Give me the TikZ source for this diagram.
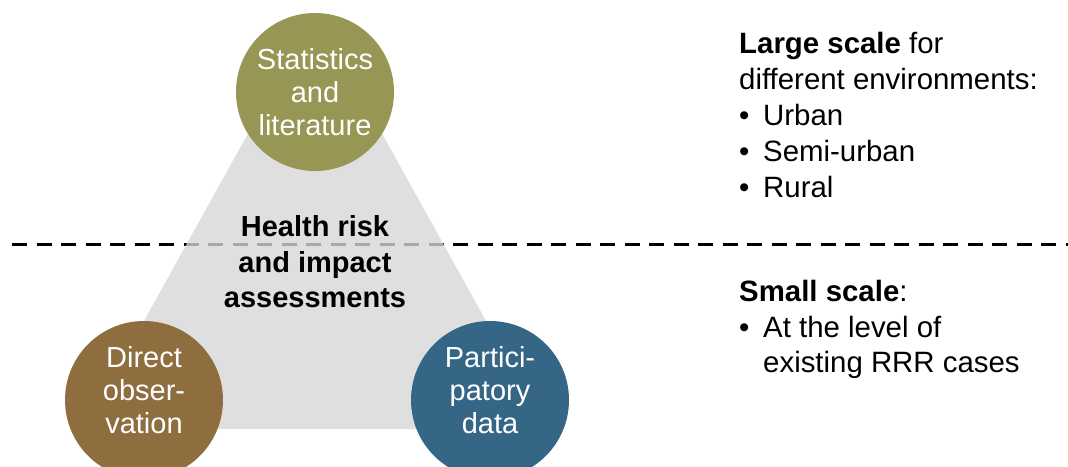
\documentclass[tikz,border=0pt]{standalone}
\usepackage{fontspec}
\setmainfont{Liberation Sans}
\begin{document}
\begin{tikzpicture}[x=1pt,y=-1pt,
  circ/.style={circle, minimum size=158pt, inner sep=0pt, draw=none},
  circtext/.style={align=center, text=white, inner sep=0pt, font=\fontsize{29}{33}\selectfont},
  heading/.style={align=center, text=black, inner sep=0pt, font=\bfseries\fontsize{29}{35.5}\selectfont},
  rtext/.style={anchor=base west, inner sep=0pt, font=\fontsize{29.4}{35}\selectfont},
  divider/.style={line width=3pt, dash pattern=on 15pt off 9.5pt}
]
\definecolor{olive}{RGB}{151,150,84}
\definecolor{brownc}{RGB}{142,110,63}
\definecolor{bluec}{RGB}{53,102,133}
\definecolor{trigray}{RGB}{215,215,215}
\useasboundingbox (0,0) rectangle (1068,466);
% dashed divider
\coordinate (dl) at (12,244);
\coordinate (dr) at (1068,244);
\draw[divider] (dl) -- (dr);
% triangle (apex hidden behind the top circle)
\fill[trigray, fill opacity=0.79] (311,20) -- (319,20) -- (546,429) -- (84,429) -- cycle;
% circles
\node[circ, fill=olive] (stat) at (315,92) {};
\node[circ, fill=brownc] (dobs) at (144,400) {};
\node[circ, fill=bluec] (part) at (490,400) {};
\node[circtext] (stattxt) at (stat.center) {Statistics\\and\\literature};
\node[circtext] (dobstxt) at ([yshift=9.5pt]dobs.center) {Direct\\obser-\\vation};
\node[circtext] (parttxt) at ([yshift=9.5pt]part.center) {Partici-\\patory\\data};
% heading
\node[heading] (head) at (315,262) {Health risk\\and impact\\assessments};
% right texts
\node[rtext] (l1) at (739,53) {\textbf{Large scale} for};
\node[rtext] (l2) at (739,89) {different environments:};
\node[rtext] (b1) at (739,125) {•};
\node[rtext] (l3) at (763,125) {Urban};
\node[rtext] (b2) at (739,161) {•};
\node[rtext] (l4) at (763,161) {Semi-urban};
\node[rtext] (b3) at (739,197) {•};
\node[rtext] (l5) at (763,197) {Rural};
\node[rtext] (s1) at (739,301) {\textbf{Small scale}:};
\node[rtext] (b4) at (739,337) {•};
\node[rtext] (s2) at (763,337) {At the level of};
\node[rtext] (s3) at (763,372) {existing RRR cases};
\end{tikzpicture}
\end{document}
